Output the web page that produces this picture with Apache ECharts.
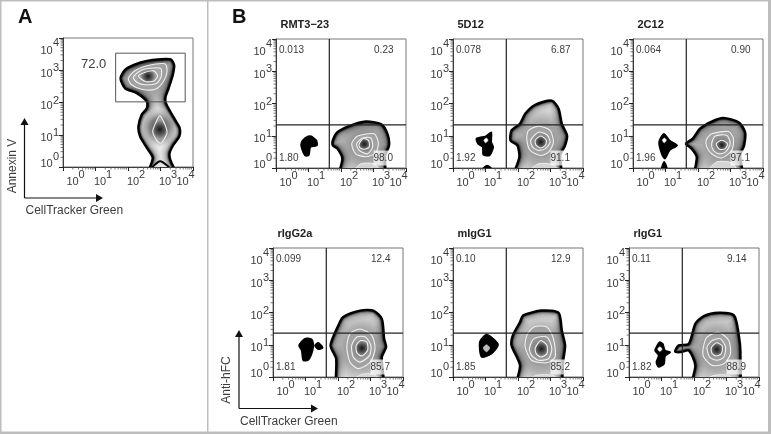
<!DOCTYPE html>
<html>
<head>
<meta charset="utf-8">
<style>
html,body{margin:0;padding:0;background:#fff}
#main{width:771px;height:434px;filter:blur(0.45px)}
</style>
<script src="https://cdn.jsdelivr.net/npm/echarts@6/dist/echarts.min.js"></script>
</head>
<body>
<div id="main"></div>
<script>
// all contour points are [x decade, y decade], ie 2.5 means 10^2.5
const exponents = ['0', '1', '2', '3', '4']
const minorSteps = [2, 3, 4, 5, 6, 7, 8, 9]
const titles = ['RMT3\u221223', '5D12', '2C12', 'rIgG2a', 'mIgG1', 'rIgG1']
const upperLeft = ['0.013', '0.078', '0.064', '0.099', '0.10', '0.11']
const upperRight = ['0.23', '6.87', '0.90', '12.4', '12.9', '9.14']
const lowerLeft = ['1.80', '1.92', '1.96', '1.81', '1.85', '1.82']
const lowerRight = ['98.0', '91.1', '97.1', '85.7', '85.2', '88.9']
const gateLabelA = '72.0'
const gateA = [[1.62, 2.02], [3.76, 2.02], [3.76, 3.53], [1.62, 3.53], [1.62, 2.02]]
const gateXB = 1.64
const gateYB = [1.34, 1.34, 1.34, 1.36, 1.36, 1.36]
// densest spot of the main population in every panel
const peaks = [[2.62, 2.82], [2.72, 0.75], [2.70, 0.80], [2.73, 0.72], [2.72, 0.90], [2.72, 0.85], [2.70, 0.85]]

const aOuter = [[2.58,3.29],[3.30,3.34],[3.42,3.16],[3.38,2.86],[3.25,2.44],[3.16,2.19],[3.16,2.00],[3.30,1.72],[3.45,1.46],[3.59,1.21],[3.58,0.95],[3.40,0.69],[3.28,0.43],[3.30,0.23],[3.52,-0.4],[2.58,-0.4],[2.76,0.28],[2.58,0.59],[2.37,0.95],[2.32,1.26],[2.42,1.62],[2.58,1.82],[2.58,2.03],[2.27,2.29],[1.91,2.44],[1.77,2.75],[1.91,3.01],[2.16,3.16]]
const aUp1 = [[2.01,2.75],[2.22,2.99],[2.58,3.14],[3.14,3.20],[3.20,2.96],[3.09,2.65],[2.84,2.41],[2.42,2.41],[2.11,2.55]]
const aUp2 = [[2.16,2.78],[2.37,2.98],[2.68,3.06],[3.01,3.06],[3.02,2.80],[2.89,2.60],[2.53,2.55],[2.27,2.63]]
const aUp3 = [[2.32,2.82],[2.53,2.94],[2.80,2.98],[2.91,2.82],[2.80,2.67],[2.53,2.65]]
const aHalo = [[2.95,1.95],[3.35,1.4],[3.45,1.05],[3.2,0.6],[2.9,0.5],[2.5,0.95],[2.5,1.4]]
const aLow = [[2.98,1.59],[3.14,1.31],[3.20,1.05],[3.02,0.74],[2.89,0.82],[2.76,1.10],[2.87,1.41]]
const aBottom = [[2.70,-0.1],[2.99,0.18],[3.32,-0.1]]

const rmtBlob = [[0.78,0.78],[0.89,0.93],[1.06,0.99],[1.24,0.86],[1.26,0.70],[1.06,0.65],[1.01,0.39],[0.89,0.39],[0.78,0.65]]
const rmtOuter = [[1.75,0.86],[1.89,1.11],[2.25,1.30],[2.76,1.44],[3.23,1.36],[3.43,1.06],[3.48,0.70],[3.36,0.39],[3.30,-0.4],[1.94,-0.4],[2.04,0.29],[1.89,0.60],[1.75,0.70]]
const rmtR1 = [[2.33,0.75],[2.51,0.99],[3.02,1.06],[3.15,0.78],[3.07,0.47],[2.76,0.35],[2.45,0.44]]
const rmtR2 = [[2.48,0.75],[2.66,0.93],[2.92,0.93],[2.97,0.65],[2.82,0.44],[2.56,0.55]]
const rmtR3 = [[2.56,0.75],[2.68,0.91],[2.85,0.85],[2.87,0.65],[2.71,0.58],[2.58,0.63]]
const rmtBottom = [[2.40,-0.1],[2.61,0.13],[3.02,0.13],[3.18,-0.1]]

const d5Blob = [[0.72,0.91],[1.01,0.99],[1.18,1.11],[1.18,0.80],[1.24,0.65],[1.13,0.39],[0.93,0.41],[0.91,0.65],[0.77,0.75]]
const d5Hole = [[0.95,0.87],[1.03,0.93],[1.08,0.85],[1.00,0.78]]
const d5Dot = [[0.91,-0.05],[1.05,0.08],[1.21,-0.05]]
const d5Outer = [[1.86,-0.4],[2.04,0.34],[1.98,0.70],[1.77,0.85],[1.80,1.16],[2.06,1.37],[2.22,1.68],[2.53,1.96],[3.04,2.09],[3.25,1.84],[3.35,1.37],[3.51,1.01],[3.45,0.70],[3.30,0.39],[3.30,-0.4]]
const d5R1 = [[2.27,0.91],[2.32,1.16],[2.63,1.30],[2.99,1.16],[3.09,0.80],[2.94,0.49],[2.68,0.39],[2.37,0.55]]
const d5R2 = [[2.39,0.86],[2.63,1.11],[2.89,1.03],[2.99,0.80],[2.84,0.60],[2.63,0.55],[2.45,0.65]]
const d5R3 = [[2.53,0.86],[2.70,0.99],[2.87,0.86],[2.84,0.70],[2.70,0.62],[2.56,0.70]]
const d5Bottom = [[2.37,-0.1],[2.63,0.13],[3.09,0.10],[3.25,-0.1]]

const c2Blob = [[0.80,0.80],[0.95,1.06],[1.13,0.85],[1.36,0.70],[1.13,0.55],[0.98,0.29],[0.88,0.44]]
const c2Hole = [[0.90,0.87],[0.97,0.93],[1.03,0.86],[0.96,0.78]]
const c2Dot = [[0.88,-0.05],[0.96,0.19],[1.05,-0.05]]
const c2Outer = [[1.63,0.75],[1.84,0.91],[2.06,1.22],[2.42,1.44],[2.78,1.55],[3.25,1.42],[3.45,1.11],[3.42,0.70],[3.30,0.39],[3.35,-0.4],[1.91,-0.4],[1.96,0.34],[1.80,0.60]]
const c2R1 = [[2.25,0.86],[2.42,1.06],[2.94,1.13],[3.09,0.91],[3.04,0.55],[2.73,0.31],[2.42,0.44],[2.27,0.65]]
const c2R2 = [[2.42,0.75],[2.53,0.99],[2.89,1.01],[2.99,0.75],[2.84,0.49],[2.63,0.44],[2.47,0.55]]
const c2R3 = [[2.56,0.75],[2.73,0.86],[2.91,0.75],[2.84,0.60],[2.66,0.58]]
const c2Bottom = [[2.32,-0.1],[2.58,0.19],[3.04,0.16],[3.20,-0.1]]

const g2Blob = [[0.80,0.98],[0.98,1.19],[1.19,1.17],[1.24,0.98],[1.19,0.72],[1.08,0.52],[0.93,0.52],[0.88,0.82]]
const g2Side = [[1.29,0.98],[1.39,1.06],[1.53,0.91],[1.39,0.86]]
const g2Outer = [[2.01,-0.4],[1.94,0.57],[1.77,0.98],[2.01,1.60],[2.16,1.86],[2.68,2.06],[3.09,2.06],[3.35,1.80],[3.42,1.19],[3.48,0.93],[3.35,0.62],[3.35,-0.4]]
const g2R1 = [[2.27,0.93],[2.37,1.34],[2.68,1.49],[3.04,1.29],[3.14,0.88],[2.99,0.46],[2.63,0.26],[2.37,0.46]]
const g2R2 = [[2.42,0.98],[2.58,1.24],[2.84,1.24],[3.01,0.98],[2.97,0.67],[2.68,0.46],[2.47,0.62]]
const g2R3 = [[2.56,0.98],[2.70,1.13],[2.89,1.08],[2.91,0.82],[2.73,0.65],[2.58,0.75]]
const g2Bottom = [[2.47,-0.1],[2.73,0.08],[3.09,0.08],[3.30,-0.1]]

const m1Blob = [[0.82,1.08],[1.01,1.31],[1.18,1.24],[1.39,1.00],[1.18,0.72],[0.88,0.62]]
const m1Hole = [[0.93,0.90],[1.03,1.00],[1.13,0.90],[1.03,0.78]]
const m1Outer = [[1.96,-0.4],[2.06,0.36],[1.80,0.98],[1.84,1.29],[2.06,1.70],[2.16,1.91],[2.73,2.06],[3.25,1.99],[3.35,1.44],[3.45,0.98],[3.40,0.57],[3.25,-0.4]]
const m1R1 = [[2.22,0.93],[2.27,1.29],[2.49,1.55],[2.89,1.55],[3.09,1.19],[3.14,0.62],[2.89,0.44],[2.42,0.52]]
const m1R2 = [[2.35,0.88],[2.49,1.19],[2.89,1.24],[3.04,0.88],[2.94,0.57],[2.63,0.52],[2.42,0.67]]
const m1R3 = [[2.53,0.90],[2.70,1.13],[2.89,0.98],[2.89,0.72],[2.70,0.62],[2.56,0.72]]
const m1Bottom = [[2.42,-0.1],[2.53,0.05],[3.09,0.05],[3.20,-0.1]]

const r1Blob = [[0.80,0.82],[0.94,1.08],[1.04,1.03],[1.11,0.82],[1.27,0.77],[1.11,0.65],[1.08,0.41],[0.91,0.31],[0.84,0.46],[0.91,0.67]]
const r1Hole = [[0.88,0.87],[0.95,0.94],[1.02,0.87],[0.95,0.79]]
const r1Outer = [[1.42,0.79],[1.53,0.98],[1.84,1.03],[2.04,1.65],[2.30,1.89],[2.76,1.99],[3.23,1.91],[3.38,1.29],[3.43,0.72],[3.33,-0.4],[1.94,-0.4],[2.04,0.36],[1.84,0.82],[1.58,0.77]]
const r1R1 = [[2.28,0.88],[2.40,1.24],[2.76,1.39],[3.07,1.13],[3.12,0.72],[2.92,0.41],[2.56,0.36],[2.30,0.62]]
const r1R2 = [[2.40,0.93],[2.56,1.13],[2.81,1.19],[2.97,0.93],[2.92,0.62],[2.71,0.52],[2.48,0.62]]
const r1R3 = [[2.53,0.90],[2.69,1.06],[2.87,0.96],[2.84,0.72],[2.69,0.65],[2.56,0.72]]
const r1Bottom = [[2.35,-0.1],[2.61,0.05],[3.07,0.05],[3.18,-0.1]]

// layer lists, first panel is A
const panelLayers = [
    [['outer', aOuter], ['bottomA', aBottom], ['r1', aUp1], ['r2', aUp2], ['r3', aUp3], ['halo', aHalo], ['r3', aLow]],
    [['blob', rmtBlob], ['outer', rmtOuter], ['bottom', rmtBottom], ['r1', rmtR1], ['r2', rmtR2], ['r3', rmtR3]],
    [['blob', d5Blob], ['hole', d5Hole], ['blob', d5Dot], ['outer', d5Outer], ['bottom', d5Bottom], ['r1', d5R1], ['r2', d5R2], ['r3', d5R3]],
    [['blob', c2Blob], ['hole', c2Hole], ['blob', c2Dot], ['outer', c2Outer], ['bottom', c2Bottom], ['r1', c2R1], ['r2', c2R2], ['r3', c2R3]],
    [['blob', g2Blob], ['blob', g2Side], ['outer', g2Outer], ['bottom', g2Bottom], ['r1', g2R1], ['r2', g2R2], ['r3', g2R3]],
    [['blob', m1Blob], ['greyHole', m1Hole], ['outer', m1Outer], ['bottom', m1Bottom], ['r1', m1R1], ['r2', m1R2], ['r3', m1R3]],
    [['blob', r1Blob], ['hole', r1Hole], ['outer', r1Outer], ['bottom', r1Bottom], ['r1', r1R1], ['r2', r1R2], ['r3', r1R3]]
]

// left, top of every plot frame
const boxes = [[63, 38], [276, 39], [453, 39], [633, 39], [273, 248], [453, 248], [629, 248]]
const boxW = 130
const boxH = 129
const INK = '#3c3c3c'

const radial = (stops) => new echarts.graphic.RadialGradient(0.5, 0.5, 0.62, stops.map((c, i) => ({offset: i / (stops.length - 1), color: c})))
const toAxis = (p) => [Math.pow(10, p[0]), Math.pow(10, p[1])]

// dark rim, see-through strokes that add up towards the edge of the outer contour
const rimSteps = [[18, 0.03], [15, 0.04], [12.5, 0.05], [10, 0.07], [8, 0.09], [6.5, 0.12], [5, 0.18], [4, 0.25], [3, 0.4]]

function layerItem(kind, points, peak) {
    const shape = {points: points, smooth: 0.25}
    if (kind === 'blob') return {type: 'polygon', shape, style: {fill: '#000', stroke: '#000', lineWidth: 1.5}}
    if (kind === 'hole') return {type: 'polygon', shape, style: {fill: '#fff', stroke: '#ccc', lineWidth: 0.5}}
    if (kind === 'greyHole') return {type: 'polygon', shape, style: {fill: '#bbb', stroke: '#ddd', lineWidth: 0.5}}
    if (kind === 'bottomA') return {type: 'polygon', shape, style: {fill: '#e4e4e4', stroke: '#000', lineWidth: 2}}
    if (kind === 'bottom') return {type: 'polygon', shape, style: {fill: '#d4d4d4', stroke: '#eee', lineWidth: 1}}
    if (kind === 'halo') return {type: 'polygon', shape, style: {fill: radial(['rgba(40,40,40,0.95)', 'rgba(90,90,90,0.7)', 'rgba(150,150,150,0)'])}}
    if (kind === 'r1') return {type: 'polygon', shape, style: {fill: radial(['#8a8a8a', '#a4a4a4', '#a0a0a0']), stroke: '#f0f0f0', lineWidth: 1.1}}
    if (kind === 'r2') return {type: 'polygon', shape, style: {fill: radial(['#6a6a6a', '#8a8a8a', '#a8a8a8']), stroke: '#f0f0f0', lineWidth: 1.1}}
    if (kind === 'r3') return {type: 'polygon', shape, style: {fill: radial(['#161616', '#555', '#a0a0a0']), stroke: '#f0f0f0', lineWidth: 1.1}}
    // outer contour, grey falls off from the peak, then the rim on top
    const fill = new echarts.graphic.RadialGradient(peak[0], peak[1], 38, [
        {offset: 0, color: '#7a7a7a'}, {offset: 0.55, color: '#acacac'}, {offset: 1, color: '#e8e8e8'}
    ], true)
    const children = [{type: 'polygon', shape, style: {fill: fill}}]
    rimSteps.forEach(s => {
        children.push({type: 'polygon', shape, clipPath: {type: 'polygon', shape}, style: {fill: 'none', stroke: 'rgba(0,0,0,' + s[1] + ')', lineWidth: s[0]}})
    })
    children.push({type: 'polygon', shape, style: {fill: 'none', stroke: '#000', lineWidth: 2.4}})
    return {type: 'group', children}
}

const grid = [], xAxis = [], yAxis = [], series = [], graphic = []

function addText(x, y, text, size, extra) {
    graphic.push({
        type: 'text', x: x, y: y, z: 20,
        rotation: (extra && extra.rotation) || 0,
        style: Object.assign({text: text, fontFamily: 'Liberation Sans', fontSize: size, fill: INK, align: 'left', verticalAlign: 'middle'}, extra && extra.style)
    })
}

// irregular label placing of the original, offsets from the frame corner
const xBaseOffset = [3.5, 31, 64, 96, 113.5]
const yBaseOffset = [126, 100, 68, 36, 13]
const ySupOffset = [119, 95, 63, 30, 5]

panelLayers.forEach((layers, i) => {
    const [left, top] = boxes[i]
    grid.push({left: left, top: top, width: boxW, height: boxH, show: true, borderColor: '#777', borderWidth: 1, backgroundColor: '#fff'})
    const base = {
        type: 'log', logBase: 10, min: 1, max: 10000, gridIndex: i,
        axisLine: {show: true, onZero: false, lineStyle: {color: INK, width: 1}},
        axisTick: {show: true, length: 4, lineStyle: {color: '#222', width: 1}},
        axisLabel: {show: false},
        splitLine: {show: false}
    }
    xAxis.push(Object.assign({}, base))
    yAxis.push(Object.assign({}, base))

    // contours
    series.push({
        type: 'custom', xAxisIndex: i, yAxisIndex: i, coordinateSystem: 'cartesian2d', clip: true, silent: true,
        data: layers.map(l => toAxis(l[1][0])),
        encode: {x: 0, y: 1},
        renderItem: (params, api) => {
            const l = layers[params.dataIndex]
            return layerItem(l[0], l[1].map(p => api.coord(toAxis(p))), api.coord(toAxis(peaks[i])))
        }
    })

    // minor ticks
    const minor = []
    for (let d = 0; d < 4; d++) minorSteps.forEach(m => minor.push(m * Math.pow(10, d)))
    series.push({
        type: 'custom', xAxisIndex: i, yAxisIndex: i, coordinateSystem: 'cartesian2d', clip: false, silent: true,
        data: minor.map(v => [v, v]),
        encode: {x: 0, y: 1},
        renderItem: (params, api) => {
            const v = api.value(0)
            const px = api.coord([v, 1])
            const py = api.coord([1, v])
            const style = {stroke: '#555', lineWidth: 0.8}
            return {type: 'group', children: [
                {type: 'line', shape: {x1: px[0], y1: px[1], x2: px[0], y2: px[1] + 2.5}, style},
                {type: 'line', shape: {x1: py[0], y1: py[1], x2: py[0] - 2.5, y2: py[1]}, style}
            ]}
        }
    })

    // gates
    const gateLine = {color: '#222', width: 1.2}
    if (i === 0) {
        series.push({type: 'line', xAxisIndex: i, yAxisIndex: i, showSymbol: false, silent: true, data: gateA.map(toAxis), lineStyle: {color: '#555', width: 1}, z: 5})
    } else {
        const gy = gateYB[i - 1]
        series.push({type: 'line', xAxisIndex: i, yAxisIndex: i, showSymbol: false, silent: true, data: [toAxis([gateXB, 0]), toAxis([gateXB, 4])], lineStyle: gateLine, z: 5})
        series.push({type: 'line', xAxisIndex: i, yAxisIndex: i, showSymbol: false, silent: true, data: [toAxis([0, gy]), toAxis([4, gy])], lineStyle: gateLine, z: 5})
    }

    // tick labels
    exponents.forEach((e, k) => {
        addText(left + xBaseOffset[k], top + boxH + 15, '10', 11)
        addText(left + xBaseOffset[k] + 12, top + boxH + 7.5, e, 11)
        addText(left - 22.5, top + yBaseOffset[k], '10', 11)
        addText(left - 10, top + ySupOffset[k], exponents[k], 11)
    })

    if (i > 0) {
        const n = i - 1
        addText(left + 4.5, top - 14, titles[n], 11, {style: {fontWeight: 'bold', fill: '#222'}})
        addText(left + 3, top + 11, upperLeft[n], 10)
        addText(left + 117.5, top + 11, upperRight[n], 10, {style: {align: 'right'}})
        addText(left + 3, top + 119, lowerLeft[n], 10)
        addText(left + 97.5, top + 119, lowerRight[n], 10, {style: {backgroundColor: 'rgba(255,255,255,0.72)', padding: [3, 0, 2, 0]}})
    }
})

addText(94 - 13, 64, gateLabelA, 13)
addText(18, 17, 'A', 20, {style: {fontWeight: 'bold', fill: '#111'}})
addText(232, 17, 'B', 20, {style: {fontWeight: 'bold', fill: '#111'}})
addText(25.5, 211, 'CellTracker Green', 12)
addText(240, 422, 'CellTracker Green', 12)
addText(13, 166, 'Annexin V', 12, {rotation: Math.PI / 2, style: {align: 'center'}})
addText(227, 380, 'Anti-hFC', 12, {rotation: Math.PI / 2, style: {align: 'center'}})

function arrow(x0, y0, x1, y1, tip) {
    graphic.push({type: 'line', z: 20, shape: {x1: x0, y1: y0, x2: x1, y2: y1}, style: {stroke: '#111', lineWidth: 1.2}})
    graphic.push({type: 'polygon', z: 20, shape: {points: tip}, style: {fill: '#111'}})
}
arrow(24.5, 198, 24.5, 120, [[24.5, 118], [20.5, 125], [28.5, 125]])
arrow(24.5, 198, 100, 198, [[103, 198], [96, 194], [96, 202]])
arrow(239, 408.5, 239, 332, [[239, 330], [235, 337], [243, 337]])
arrow(239, 408.5, 315, 408.5, [[318, 408.5], [311, 404.5], [311, 412.5]])

// page rules around the panels
const RULE = '#bdbdbd'
const rules = [[0, 0, 771, 1.5], [0, 0, 1.5, 434], [207, 0, 1.5, 434], [768, 0, 3, 434], [0, 431.5, 771, 2.5]]
rules.forEach(r => graphic.push({type: 'rect', z: 21, shape: {x: r[0], y: r[1], width: r[2], height: r[3]}, style: {fill: RULE}}))

echarts.init(document.getElementById('main')).setOption({
    animation: false,
    backgroundColor: '#fff',
    grid, xAxis, yAxis, series, graphic
})
</script>
</body>
</html>
